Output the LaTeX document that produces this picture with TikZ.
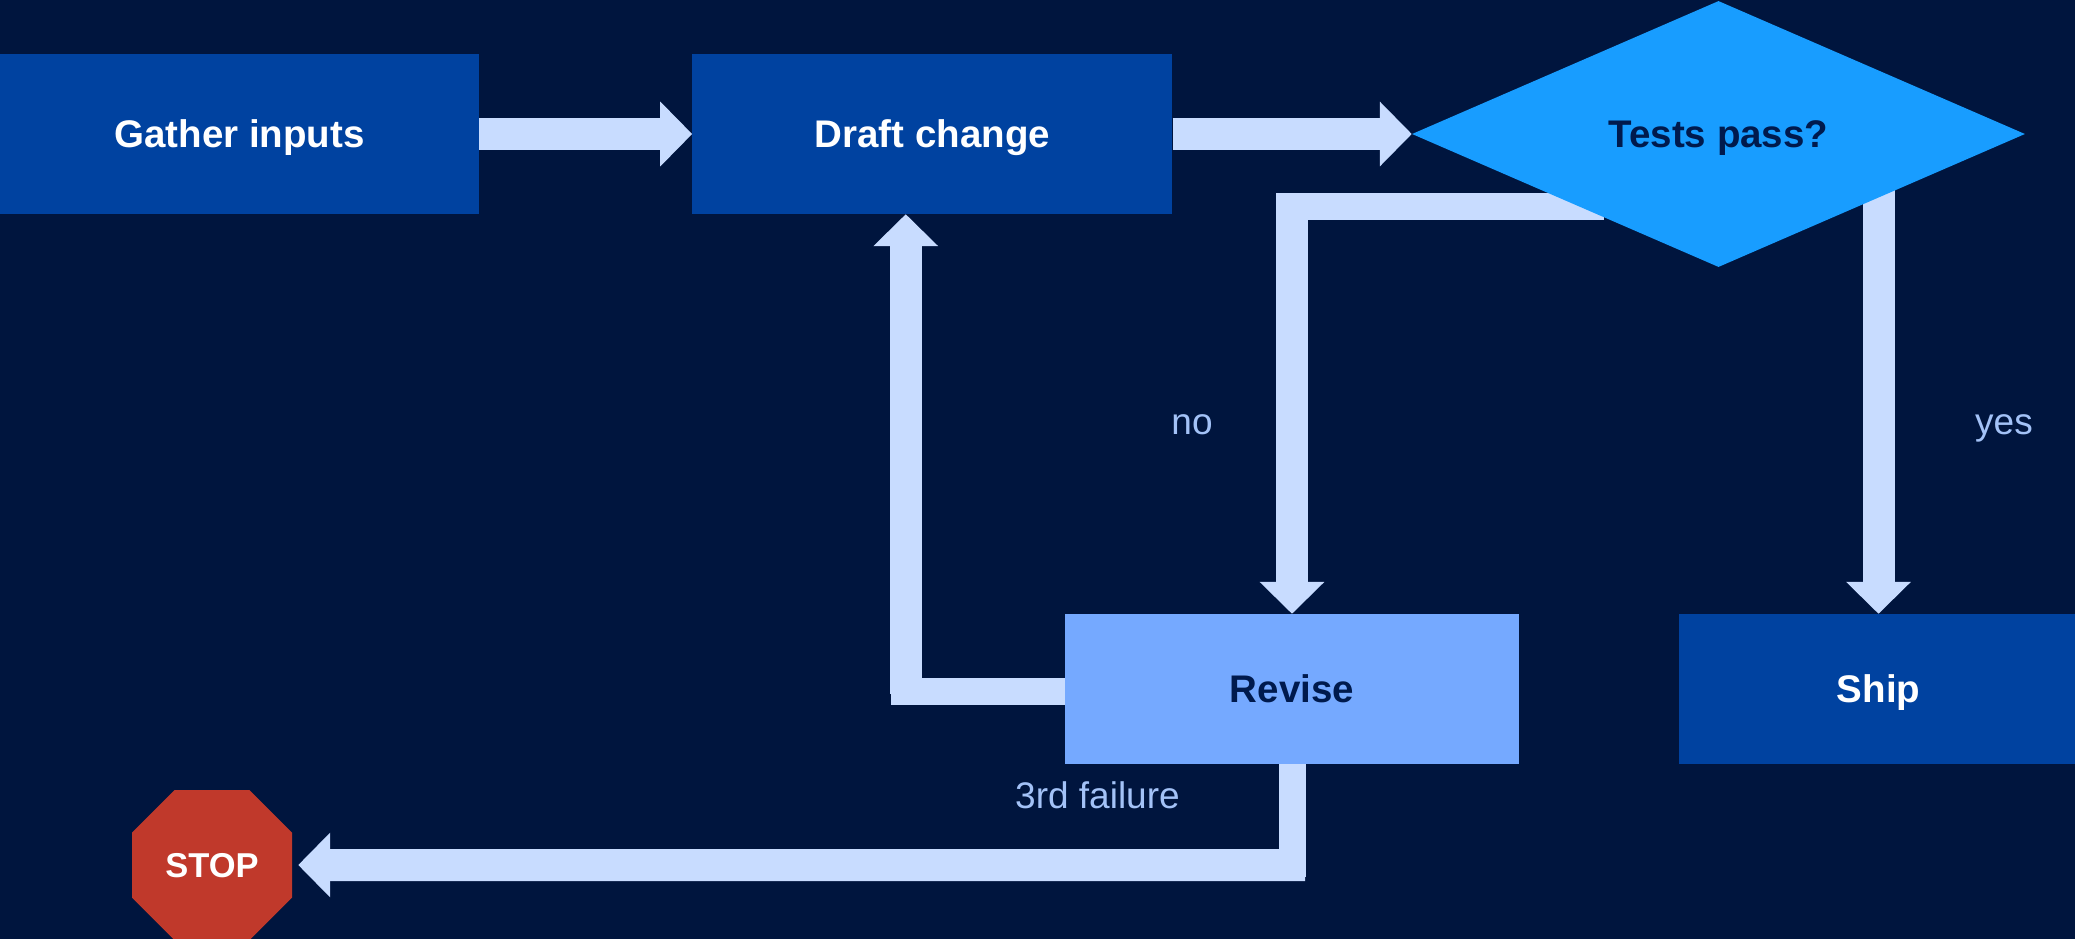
\documentclass[tikz,border=0pt]{standalone}
\usepackage{fontspec}
\setmainfont{Liberation Sans}
\usetikzlibrary{arrows.meta, positioning, shapes.geometric, shapes.misc, backgrounds}
\definecolor{pagebg}{HTML}{00153E}
\definecolor{boxblue}{HTML}{0042A0}
\definecolor{lightbox}{HTML}{75A9FF}
\definecolor{testblue}{HTML}{189DFF}
\definecolor{stopred}{HTML}{C0392B}
\definecolor{pipe}{HTML}{C8DCFF}
\definecolor{labelblue}{HTML}{A3C2F7}
\definecolor{darktext}{HTML}{001A4D}
\tikzset{
  boldtext/.style = {inner sep = 0, text height = 26.6pt, text depth = 0pt, font = \fontsize{38.5}{40}\selectfont\bfseries},
  stepbox/.style = {boldtext, rectangle, fill = boxblue, text = white, minimum height = 160pt},
  flowline/.style = {draw = pipe, line width = 27pt},
  flowarrow/.style = {draw = pipe, line width = 32pt, -{Triangle[length = 32pt, width = 63pt]}},
  edgelabel/.style = {text = labelblue, inner sep = 0, text height = 22pt, text depth = 0pt, font = \fontsize{37}{40}\selectfont}
}

\begin{document}
\begin{tikzpicture}[x = 1pt, y = -1pt]
\useasboundingbox (0,0) rectangle (2075,938);
\node[stepbox, minimum width = 479pt](gather) at (239.5,134){Gather inputs};
\node[stepbox, minimum width = 480pt, right = 213pt of gather](draft){Draft change};
\node[boldtext, diamond, fill = testblue, text = darktext, aspect = 2.3, minimum width = 613pt, minimum height = 266pt](test) at (1718.5,134){Tests pass?};
\node[stepbox, fill = lightbox, text = darktext, minimum width = 454pt, minimum height = 150pt](revise) at (1292,689){Revise};
\node[stepbox, minimum width = 399pt, minimum height = 150pt](ship) at (1878.5,689){Ship};
\node[chamfered rectangle, chamfered rectangle xsep = 30pt, chamfered rectangle ysep = 30pt, fill = stopred, text = white, inner sep = 0, minimum width = 160pt, minimum height = 150pt, text height = 25pt, text depth = 0pt, font = \fontsize{34.5}{38}\selectfont\bfseries](stop) at (212,865){STOP};
\node[edgelabel](nolabel) at (1192,423){no};
\node[edgelabel](yeslabel) at (2004,423){yes};
\node[edgelabel](faillabel) at (1097.5,797){3rd failure};
\coordinate (nostart) at (1604,206.5);
\coordinate (nobend) at (1276,206.5);
\coordinate (nodrop) at (1292,193);
\coordinate (yesstart) at (1878.5,190);
\coordinate (backbend) at (890.5,691.5);
\coordinate (backrise) at (905.75,694);
\coordinate (stopdrop) at (1292.5,877);
\coordinate (stopbend) at (1305,865);
\begin{scope}[on background layer]
\fill[pagebg] (-5,-5) rectangle (2080,943);
\draw[flowarrow] (gather) -- (draft);
\draw[flowarrow] (draft) -- (test);
\draw[flowline] (nostart) -- (nobend);
\draw[flowarrow] (nodrop) -- (revise.north);
\draw[flowarrow] (yesstart) -- (ship.north);
\draw[flowline] (revise.west |- backbend) -- (backbend);
\draw[flowarrow] (backrise) -- (backrise |- draft.south);
\draw[flowline] (stopdrop |- revise.south) -- (stopdrop);
\draw[flowarrow, shorten > = 6pt] (stopbend) -- (stop);
\end{scope}
\end{tikzpicture}
\end{document}
